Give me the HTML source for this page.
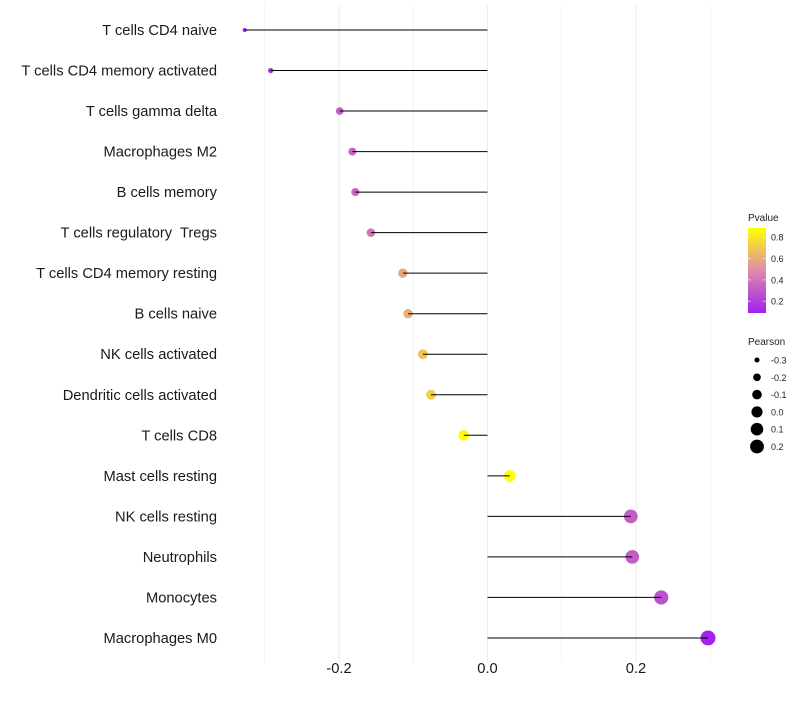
<!DOCTYPE html>
<html><head><meta charset="utf-8"><style>
body{margin:0;background:#fff;font-family:"Liberation Sans",sans-serif;}
</style></head><body>
<svg id="chart" width="800" height="700" xmlns="http://www.w3.org/2000/svg" font-family="Liberation Sans, sans-serif"></svg>
<script>
const categories=["T cells CD4 naive","T cells CD4 memory activated","T cells gamma delta","Macrophages M2","B cells memory","T cells regulatory  Tregs","T cells CD4 memory resting","B cells naive","NK cells activated","Dendritic cells activated","T cells CD8","Mast cells resting","NK cells resting","Neutrophils","Monocytes","Macrophages M0"];
const pearson=[-0.327,-0.292,-0.199,-0.182,-0.178,-0.157,-0.114,-0.107,-0.087,-0.076,-0.032,0.030,0.193,0.195,0.234,0.297];
const pvalue=[0.10,0.15,0.32,0.34,0.35,0.40,0.58,0.60,0.68,0.72,0.87,0.88,0.32,0.32,0.27,0.10];
const xTicks=[-0.2,0.0,0.2];
const xGrid=[-0.3,-0.2,-0.1,0,0.1,0.2,0.3];
const pLegend=[0.8,0.6,0.4,0.2];
const sizeLegend=[-0.3,-0.2,-0.1,0.0,0.1,0.2];

const svg=document.getElementById('chart');
const NS="http://www.w3.org/2000/svg";
function mk(t,a,p){const e=document.createElementNS(NS,t);for(const k in a)e.setAttribute(k,a[k]);(p||svg).appendChild(e);return e;}
const x=v=>487.5+v*742.5;
const y=i=>30+i*40.53;
const vmin=-0.33,vmax=0.30,rmin=2,rmax=7.48;
const r=v=>Math.sqrt(rmin*rmin+Math.max(0,(v-vmin)/(vmax-vmin))*(rmax*rmax-rmin*rmin));
function lerp(a,b,t){return a.map((c,i)=>Math.round(c+(b[i]-c)*t));}
function col(p){const lo=[160,32,240],mid=[222,140,170],hi=[255,255,0];
 const t=Math.max(0,Math.min(1,(p-0.09)/(0.885-0.09)));
 const c=t<0.5?lerp(lo,mid,t*2):lerp(mid,hi,(t-0.5)*2);return `rgb(${c})`;}

xGrid.forEach(v=>{const g=mk('line',{x1:x(v),x2:x(v),y1:5,y2:662,stroke:'#ebebeb','stroke-width':Math.abs(Math.round(v*10))%2===0?1:0.6});
});
xTicks.forEach(v=>{const t=mk('text',{x:x(v),y:673,'text-anchor':'middle','font-size':14.7,fill:'#1a1a1a'});t.textContent=v.toFixed(1);
});
categories.forEach((c,i)=>{
 const t=mk('text',{x:217,y:y(i)+5,'text-anchor':'end','font-size':14.7,fill:'#1a1a1a'});t.style.whiteSpace='pre';t.textContent=c;
 
 const d=mk('circle',{cx:x(pearson[i]),cy:y(i),r:r(pearson[i]),fill:col(pvalue[i])});
 
 const l=mk('line',{x1:x(0),x2:x(pearson[i]),y1:y(i),y2:y(i),stroke:'#000','stroke-width':1});
 
});
const lt=mk('text',{x:748,y:221,'font-size':10,fill:'#222'});lt.textContent='Pvalue';

const defs=mk('defs',{});const gr=mk('linearGradient',{id:'pg',x1:0,y1:1,x2:0,y2:0},defs);
[0,0.25,0.5,0.75,1].forEach(s=>mk('stop',{offset:s,'stop-color':col(0.09+s*(0.885-0.09))},gr));
const bar=mk('rect',{x:748,y:228,width:18,height:85,fill:'url(#pg)'});

const ly=p=>313-(p-0.09)/(0.885-0.09)*85;
pLegend.forEach(p=>{mk('line',{x1:748,x2:751,y1:ly(p),y2:ly(p),stroke:'#fff','stroke-opacity':0.6});mk('line',{x1:763,x2:766,y1:ly(p),y2:ly(p),stroke:'#fff','stroke-opacity':0.6});
 const t=mk('text',{x:771,y:ly(p)+3.5,'font-size':9,fill:'#222'});t.textContent=p.toFixed(1);
 });
const st=mk('text',{x:748,y:345,'font-size':10,fill:'#222'});st.textContent='Pearson';

sizeLegend.forEach((v,i)=>{const yy=360+i*17.3;
 const c=mk('circle',{cx:757,cy:yy,r:r(v),fill:'#000'});
 const t=mk('text',{x:771,y:yy+3.5,'font-size':9,fill:'#222'});t.textContent=v.toFixed(1);
 });
</script>
</body></html>
